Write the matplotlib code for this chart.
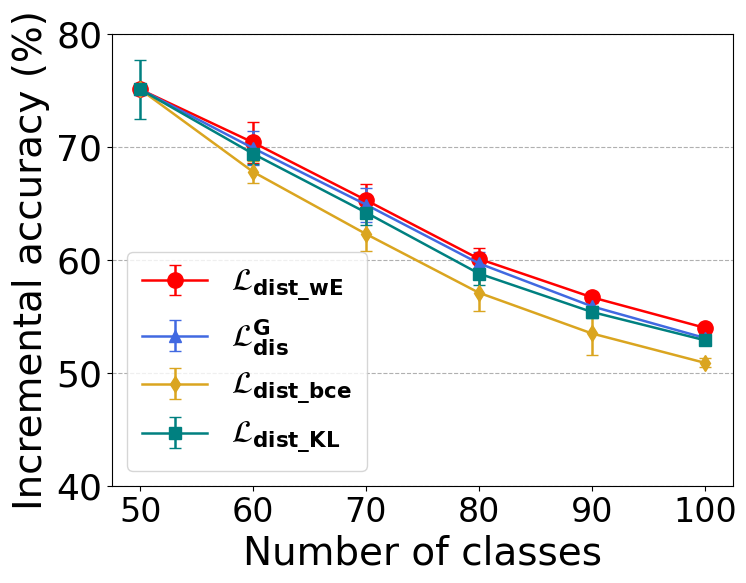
import numpy as np
import matplotlib
matplotlib.use('Agg')
import matplotlib.pyplot as plt

plt.rcParams['font.family'] = ['DejaVu Sans']

classes = [50, 60, 70, 80, 90, 100]

acc_we = [75.1, 70.4, 65.3, 60.1, 56.7, 54.0]
err_we = [0.3, 1.8, 1.4, 1.0, 0.5, 0.3]

acc_g = [75.1, 69.9, 64.9, 59.7, 55.9, 53.1]
err_g = [0.3, 1.5, 1.5, 1.0, 0.6, 0.3]

acc_bce = [75.1, 67.8, 62.3, 57.1, 53.5, 50.9]
err_bce = [0.3, 1.0, 1.5, 1.6, 1.9, 0.4]

acc_kl = [75.1, 69.4, 64.2, 58.8, 55.4, 52.9]
err_kl = [2.6, 0.9, 1.1, 1.0, 0.5, 0.3]

labels = [r'$\mathcal{L}_{\mathbf{dist\_wE}}$',
          r'$\mathcal{L}^{\mathbf{G}}_{\mathbf{dis}}$',
          r'$\mathcal{L}_{\mathbf{dist\_bce}}$',
          r'$\mathcal{L}_{\mathbf{dist\_KL}}$']

fig = plt.figure(figsize=(7.46, 5.83), dpi=100)
ax = fig.add_axes([0.150, 0.1664, 0.8326, 0.7753])

ax.errorbar(classes, acc_we, yerr=err_we, color='red', marker='o', markersize=11,
            capsize=4, linewidth=1.8, label=labels[0])
ax.errorbar(classes, acc_g, yerr=err_g, color='royalblue', marker='^', markersize=9,
            capsize=4, linewidth=1.8, label=labels[1])
ax.errorbar(classes, acc_bce, yerr=err_bce, color='goldenrod', marker='d', markersize=8,
            capsize=4, linewidth=1.8, label=labels[2])
ax.errorbar(classes, acc_kl, yerr=err_kl, color='teal', marker='s', markersize=9,
            capsize=4, linewidth=1.8, label=labels[3])

ax.set_ylim(40, 80)
ax.set_yticks([40, 50, 60, 70, 80])
ax.set_xticks(classes)
ax.yaxis.grid(True, linestyle='--', color='#b0b0b0', linewidth=0.8)
ax.tick_params(axis='y', labelsize=26)
ax.tick_params(axis='x', labelsize=24)
ax.set_xlabel('Number of classes', fontsize=28)
ax.set_ylabel('Incremental accuracy (%)', fontsize=28)

ax.legend(loc='lower left', fontsize=22, labelspacing=0.45, handlelength=2.1,
          handletextpad=0.8, borderpad=0.5)

fig.savefig('out.png', dpi=100)
